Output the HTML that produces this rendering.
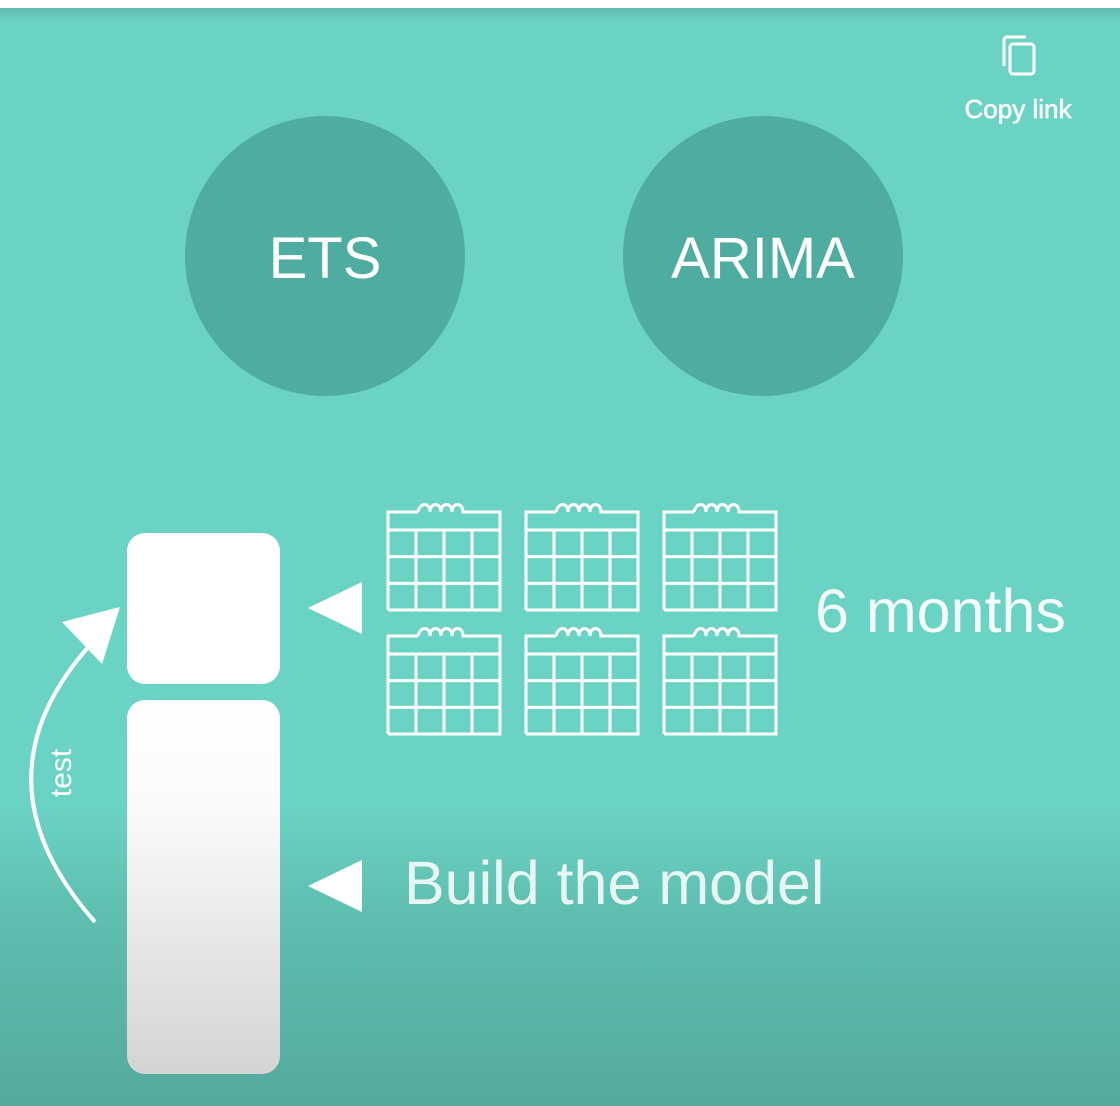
<!DOCTYPE html>
<html><head><meta charset="utf-8"><style>
body{margin:0;width:1120px;height:1106px;overflow:hidden;background:#fff;font-family:"Liberation Sans",sans-serif}
#bg{position:absolute;left:0;top:8px;width:1120px;height:1098px;background:linear-gradient(to bottom,#5fbcaf 0px,#6bd3c4 14px,#6bd3c4 800px,#5fbfb1 900px,#55a99d 1098px)}
</style></head><body>
<div id="bg"></div>
<svg width="1120" height="1106" style="position:absolute;left:0;top:0">
<defs><linearGradient id="wg" x1="0" y1="0" x2="0" y2="1"><stop offset="0" stop-color="#fff"/><stop offset="0.3" stop-color="#fafafa"/><stop offset="1" stop-color="#d4d4d4"/></linearGradient></defs>
<g>
<rect x="1010" y="44" width="24" height="30" rx="3" fill="none" stroke="#fff" stroke-width="3"/>
<path d="M1004 66 V40 a3 3 0 0 1 3 -3 H1026" fill="none" stroke="#fff" stroke-width="3"/>
<text x="1018" y="118" text-anchor="middle" font-size="26" fill="#fff" stroke="#fff" stroke-width="0.6">Copy link</text>
</g>
<g><circle cx="325" cy="256" r="140" fill="#4faca0"/>
<text x="325" y="278" text-anchor="middle" font-size="58" fill="#fff">ETS</text></g>
<g><circle cx="763" cy="256" r="140" fill="#4faca0"/>
<text x="763" y="278" text-anchor="middle" font-size="58" fill="#fff">ARIMA</text></g>
<rect x="127" y="533" width="153" height="151" rx="18" fill="#fff"/>
<rect x="127" y="700" width="153" height="374" rx="18" fill="url(#wg)"/>
<path d="M95 922 Q-30 780 90 645" fill="none" stroke="#fff" stroke-width="4"/>
<polygon points="62,622 120,607 102,664" fill="#fff"/>
<text transform="translate(71,773) rotate(-90)" text-anchor="middle" font-size="30" fill="#fff">test</text>
<polygon points="308,608 362,582 362,634" fill="#fff"/>
<polygon points="308,886 362,860 362,912" fill="#fff"/>
<g id="cals"></g>
<text x="815" y="632" font-size="61" fill="#fff" fill-opacity="0.92">6 months</text>
<text x="404" y="904" font-size="61" fill="#fff" fill-opacity="0.85">Build the model</text>
</svg>
<script>
const g=document.getElementById('cals');
const xs=[388,526,664],ys=[508,632];
let s='';
for(const y of ys)for(const x of xs){
  const w=112,t=y,top=y+16,b=y+102;
  s+=`<g fill="none" stroke="#fff" stroke-width="3">`;
  s+=`<path d="M${x} ${b} V${t+4} H${x+30}"/><path d="M${x+82} ${t+4} H${x+w} V${b} H${x}"/>`;
  s+=`<path d="M${x+30} ${t+4} c2 -10 12 -10 12 0 c0 -10 11 -10 11 0 c0 -10 11 -10 11 0 c0 -10 11 -10 11 0 c4 0 6 0 7 0"/>`;
  s+=`<path d="M${x} ${top+6} H${x+w}"/>`;
  for(let i=1;i<3;i++){const yy=top+6+(b-top-6)*i/3;s+=`<path d="M${x} ${yy} H${x+w}"/>`;}
  for(let i=1;i<4;i++){const xx=x+w*i/4;s+=`<path d="M${xx} ${top+6} V${b}"/>`;}
  s+=`</g>`;
}
g.innerHTML=s;
</script>
</body></html>
